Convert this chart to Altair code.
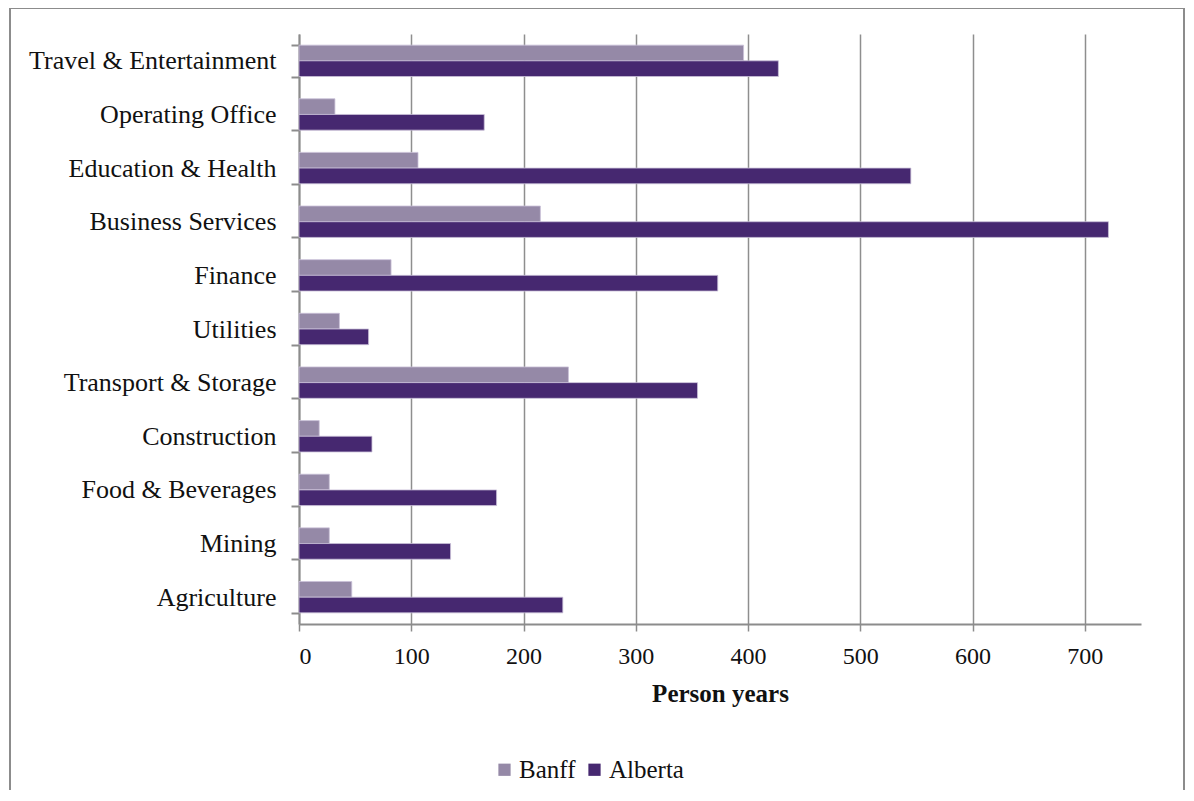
import altair as alt
import pandas as pd

categories = ["Travel & Entertainment", "Operating Office", "Education & Health",
              "Business Services", "Finance", "Utilities", "Transport & Storage",
              "Construction", "Food & Beverages", "Mining", "Agriculture"]
banff = [396, 32, 106, 215, 82, 36, 240, 18, 27, 27, 47]
alberta = [427, 165, 545, 721, 373, 62, 355, 65, 176, 135, 235]
series = ["Banff", "Alberta"]
colors = ["#9589A7", "#462870"]
x_ticks = [0, 100, 200, 300, 400, 500, 600, 700]

rows = []
for c, b, a in zip(categories, banff, alberta):
    rows.append({"Category": c, "Series": "Banff", "Value": b})
    rows.append({"Category": c, "Series": "Alberta", "Value": a})
df = pd.DataFrame(rows)

FONT = "Liberation Serif"

bars = alt.Chart(df).mark_bar(stroke="#c9c0d8", strokeWidth=0.8).encode(
    y=alt.Y("Category:N", sort=categories,
            scale=alt.Scale(paddingInner=0.415, paddingOuter=0.2075),
            axis=alt.Axis(title=None, tickBand="extent", tickSize=8,
                          labelFontSize=26, labelFont=FONT, labelColor="#111111",
                          labelPadding=15, labelLimit=400,
                          domainColor="#8c8c8c", domainWidth=2,
                          tickColor="#8c8c8c", tickWidth=2, grid=False)),
    yOffset=alt.YOffset("Series:N", sort=series),
    x=alt.X("Value:Q", scale=alt.Scale(domain=[0, 750], nice=False),
            axis=alt.Axis(title="Person years", values=x_ticks, tickSize=7,
                          labelFontSize=24, labelFont=FONT, labelColor="#111111",
                          labelPadding=13, titleFont=FONT, titleFontSize=25,
                          titleFontWeight="bold", titleColor="#111111",
                          titlePadding=13,
                          domainColor="#8c8c8c", domainWidth=2,
                          tickColor="#8c8c8c", tickWidth=1.5,
                          grid=True, gridColor="#8e8e8e", gridWidth=1.5)),
    color=alt.Color("Series:N", sort=series,
                    scale=alt.Scale(domain=series, range=colors),
                    legend=alt.Legend(title=None, orient="none", direction="horizontal",
                                      legendX=193, legendY=723,
                                      labelFont=FONT, labelFontSize=25,
                                      labelColor="#111111", symbolType="square",
                                      symbolSize=150, symbolStrokeWidth=0,
                                      columnPadding=6, labelOffset=2)),
)

border = alt.Chart(pd.DataFrame({"a": [0]})).mark_rect(
    fill="transparent", stroke="#8c8c8c", strokeWidth=2
).encode(x=alt.value(-289), x2=alt.value(885), y=alt.value(-26), y2=alt.value(820))

chart = alt.layer(border, bars).properties(
    width=842, height=590,
    autosize=alt.AutoSizeParams(type="none"),
    padding={"left": 291, "top": 26, "right": 45, "bottom": 166},
).configure_view(stroke="transparent", strokeWidth=0)

chart.save("out.html", embed_options={"renderer": "svg", "actions": False})
